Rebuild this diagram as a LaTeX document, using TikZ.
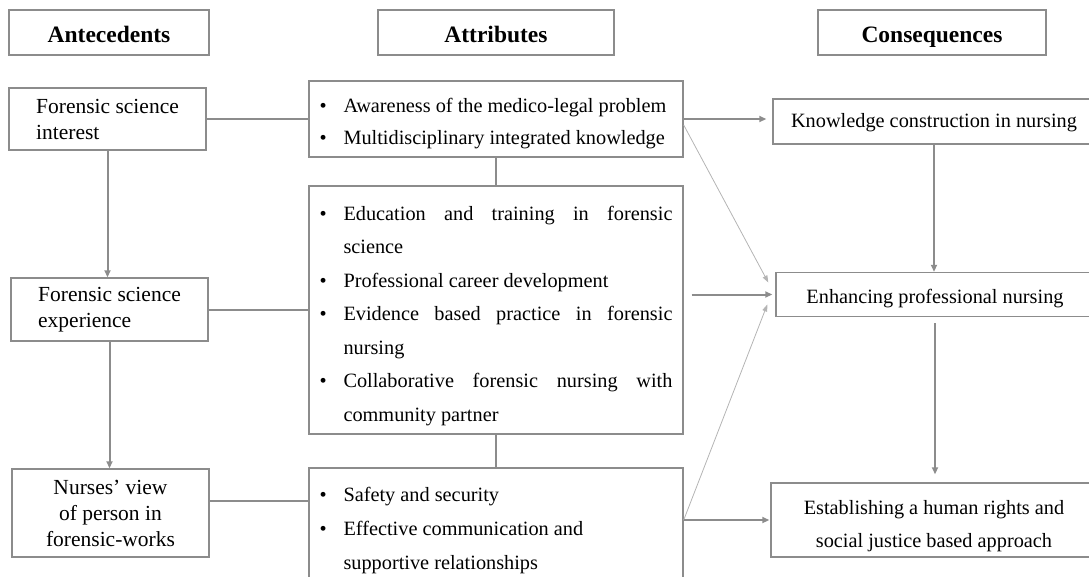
\documentclass[tikz,border=0pt]{standalone}
\usepackage{fontspec}
\setmainfont{Liberation Serif}
\usepackage{enumitem}
\setlist[itemize]{nosep,label=\textbullet,leftmargin=24pt,labelwidth=12pt,labelsep=12pt,align=left}
\usetikzlibrary{arrows.meta}
\definecolor{edgegray}{RGB}{140,140,140}
\definecolor{faintgray}{RGB}{180,180,180}
\newcommand\nohyph{\hyphenpenalty=10000\relax\exhyphenpenalty=10000\relax\lefthyphenmin=62\relax\righthyphenmin=62\relax}
\newcommand\padbelow[1]{\par\hrule height #1 width 0pt\relax}

\begin{document}
\begin{tikzpicture}[x=1pt,y=-1pt,
  box/.style={draw=edgegray,line width=1.4pt,inner sep=0pt},
  headbox/.style={box,minimum height=45pt,text height=19pt,text depth=0pt,font=\fontsize{23.5}{28}\selectfont\bfseries},
  antbox/.style={box,minimum width=197pt,font=\fontsize{21.5}{26}\selectfont},
  attbox/.style={box,minimum width=374pt,text width=353pt,align=justify,font=\fontsize{20.3}{#1}\selectfont,execute at begin node=\nohyph},
  conbox/.style={box,align=center,font=\fontsize{20.3}{33}\selectfont},
  link/.style={draw=edgegray,line width=2pt},
  flow/.style={link,-{Triangle[length=7pt,width=6pt]}},
  faint/.style={draw=faintgray,line width=0.8pt,-{Triangle[length=7pt,width=5pt]}}]
\useasboundingbox (0,0) rectangle (1089,576);
\clip (0,0) rectangle (1089,576);

\node[headbox,minimum width=200pt] (anthead) at (109,32.5) {Antecedents};
\node[headbox,minimum width=236pt] (atthead) at (496,32.5) {Attributes};
\node[headbox,minimum width=228pt] (conhead) at (932,32.5) {Consequences};

\node[antbox,minimum height=62pt,align=left] (interest) at (107.5,119) {Forensic science\\interest};
\node[antbox,minimum height=63pt,align=left] (experience) at (109.5,309.5) {Forensic science\\experience};
\node[antbox,minimum height=88pt,align=center] (nurses) at (110.5,513) {Nurses' view\\of person in\\forensic-works};

\node[attbox=32,minimum height=76pt] (attr1) at (496,119) {\begin{itemize}
  \item Awareness of the medico-legal problem
  \item Multidisciplinary integrated knowledge
\end{itemize}\padbelow{8pt}};
\node[attbox=33.5,minimum height=248pt] (attr2) at (496,310) {\begin{itemize}
  \item Education and training in forensic science
  \item Professional career development
  \item Evidence based practice in forensic nursing
  \item Collaborative forensic nursing with community partner
\end{itemize}\padbelow{8pt}};
\node[attbox=34,minimum height=114pt] (attr3) at (496,525) {\begin{itemize}
  \item Safety and security
  \item Effective communication and\newline supportive relationships
\end{itemize}\padbelow{8pt}};

\node[conbox,minimum width=322pt,minimum height=45pt,text height=14pt,text depth=3pt] (knowledge) at (934,121.5) {Knowledge construction in nursing};
\node[conbox,minimum width=318pt,minimum height=44pt,text height=17pt,text depth=0pt] (enhancing) at (935,294.5) {Enhancing professional nursing};
\node[conbox,minimum width=326pt,minimum height=74pt,text height=60pt] (establishing) at (934,520) {Establishing a human rights and\\social justice based approach};

\draw[link] (interest) -- (attr1);
\draw[link] (experience.east) -- (experience.east -| attr2.west);
\draw[link] ([yshift=12pt]nurses.east) -- ([yshift=12pt]nurses.east -| attr3.west);
\draw[link] (attr1) -- (attr2);
\draw[link] (attr2) -- (attr3);
\draw[flow] (interest.south) -- (interest.south |- experience.north);
\draw[flow] (experience.south) -- (experience.south |- nurses.north);

\draw[flow] (attr1.east) -- ([xshift=-6pt]attr1.east -| knowledge.west);
\draw[faint] ([yshift=-6pt]attr1.east) -- ([xshift=-7pt,yshift=12pt]enhancing.west);
\draw[flow] ([xshift=8pt]enhancing.west -| attr2.east) -- ([xshift=-3pt]enhancing.west);
\draw[faint] ([yshift=5pt]attr3.east) -- ([xshift=-8pt,yshift=-10pt]enhancing.west);
\draw[flow] (establishing.west -| attr3.east) -- ([xshift=-1pt]establishing.west);
\draw[flow] (knowledge.south) -- (knowledge.south |- enhancing.north);
\draw[flow] ([yshift=-6pt]enhancing.south) -- ([yshift=8pt]enhancing.south |- establishing.north);
\end{tikzpicture}
\end{document}
